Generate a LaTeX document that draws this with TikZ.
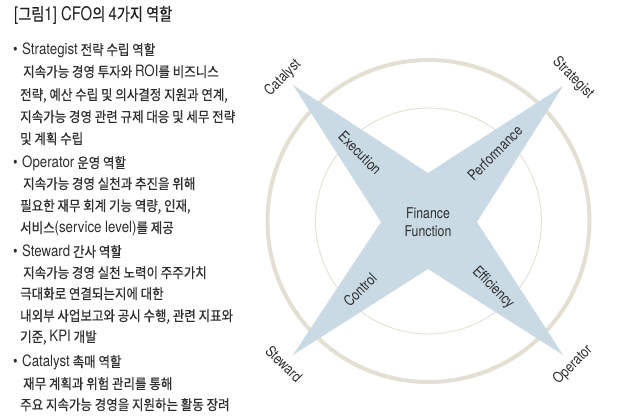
\documentclass[tikz,border=0pt]{standalone}
\usepackage{fontspec}
\setmainfont{Noto Sans CJK KR}[FakeStretch=0.88,FakeBold=0.4]
\newfontfamily\enf{TeX Gyre Heros}[Scale=1.1,FakeStretch=0.85]
\newfontfamily\titlehan{Noto Sans CJK KR}[FakeStretch=0.82,FakeBold=0.6]
\newfontfamily\titleen{TeX Gyre Heros}[Scale=1.08,FakeStretch=0.8]
\newfontfamily\dfont{TeX Gyre Heros}[FakeStretch=0.83]
\newcommand{\en}[1]{{\enf #1}}
\definecolor{txt}{HTML}{2E2E2E}
\definecolor{starfill}{HTML}{C9DAE5}
\definecolor{ringc}{HTML}{E3E0D3}
\begin{document}
\begin{tikzpicture}[x=1pt,y=-1pt,
  line/.style={anchor=base west,inner sep=0pt,text=txt,font=\fontsize{14.2}{16}\selectfont},
  bul/.style={anchor=base west,inner sep=0pt,text=txt,font=\enf\fontsize{14}{16}\selectfont},
  lab/.style={inner sep=0pt,text=txt,font=\dfont\fontsize{14.8}{16}\selectfont}]
\useasboundingbox[fill=white] (0,0) rectangle (640,419);
% title
\node[anchor=base west,inner sep=0pt,text=black!88,font=\titlehan\fontsize{17.3}{19}\selectfont] (title) at (14,20.5) {{\titleen[}그림{\titleen 1] CFO}의 {\titleen 4}가지 역할};
% bullets
\node[bul] (b1) at (13,55) {•};
\node[line] (s0) at (22,55) {\en{Strategist} 전략 수립 역할};
\node[line] (s1) at (23,77) {지속가능 경영 투자와 \en{ROI}를 비즈니스};
\node[line] (s2) at (20,100) {전략, 예산 수립 및 의사결정 지원과 연계,};
\node[line] (s3) at (20,122) {지속가능 경영 관련 규제 대응 및 세무 전략};
\node[line] (s4) at (20,144) {및 계획 수립};
\node[bul] (b2) at (13,168) {•};
\node[line] (o0) at (22,168) {\en{Operator} 운영 역할};
\node[line] (o1) at (23,189) {지속가능 경영 실천과 추진을 위해};
\node[line] (o2) at (20,211) {필요한 재무 회계 기능 역량, 인재,};
\node[line] (o3) at (20,233) {서비스\en{(service level)}를 제공};
\node[bul] (b3) at (13,257) {•};
\node[line] (w0) at (22,257) {\en{Steward} 간사 역할};
\node[line] (w1) at (23,278) {지속가능 경영 실천 노력이 주주가치};
\node[line] (w2) at (20,299) {극대화로 연결되는지에 대한};
\node[line] (w3) at (20,321) {내외부 사업보고와 공시 수행, 관련 지표와};
\node[line] (w4) at (20,342) {기준, \en{KPI} 개발};
\node[bul] (b4) at (13,367) {•};
\node[line] (c0) at (22,367) {\en{Catalyst} 촉매 역할};
\node[line] (c1) at (23,389) {재무 계획과 위험 관리를 통해};
\node[line] (c2) at (20,410) {주요 지속가능 경영을 지원하는 활동 장려};
% circles
\coordinate (ctr) at (428.5,221);
\draw[ringc,line width=4pt] (ctr) circle[radius=161];
\draw[ringc,line width=0.9pt] (ctr) circle[radius=113];
% star
\coordinate (tl) at (293,85);
\coordinate (tr) at (563,86);
\coordinate (br) at (563,355);
\coordinate (bl) at (293,355);
\coordinate (it) at (428,173);
\coordinate (ir) at (477,222);
\coordinate (ib) at (428,269);
\coordinate (il) at (381,222);
\fill[starfill] (tl) -- (it) -- (tr) -- (ir) -- (br) -- (ib) -- (bl) -- (il) -- cycle;
% labels
\node[lab,align=center] (ff) at (428,222) {Finance\\[2pt]Function};
\node[lab,rotate=45] (cat) at (283,78) {Catalyst};
\node[lab,rotate=-45] (str) at (573,78) {Strategist};
\node[lab,rotate=-45] (stw) at (284,364) {Steward};
\node[lab,rotate=45] (opr) at (573,365) {Operator};
\node[lab,rotate=-45] (exe) at (360,153) {Execution};
\node[lab,rotate=45] (prf) at (495,153) {Performance};
\node[lab,rotate=45] (ctl) at (360,290) {Control};
\node[lab,rotate=-45] (eff) at (493,288) {Efficiency};
\end{tikzpicture}
\end{document}
